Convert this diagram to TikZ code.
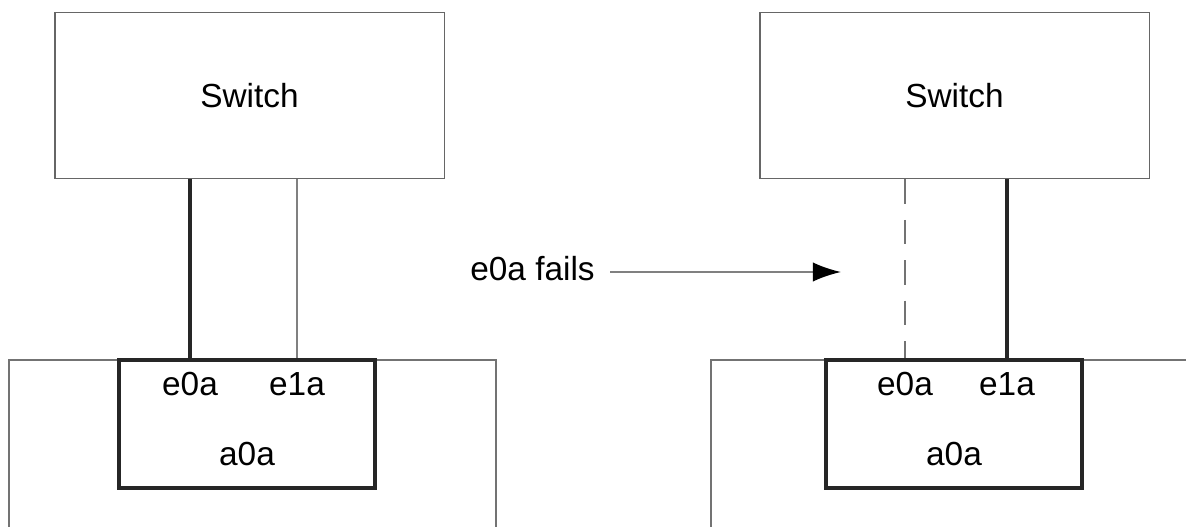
\documentclass[tikz,border=0pt]{standalone}
\usepackage{fontspec}
\setmainfont{Liberation Sans}
\usetikzlibrary{arrows.meta,positioning,calc}

\begin{document}
\begin{tikzpicture}[
    x=0.02cm, y=-0.02cm,
    font=\fontsize{19}{22}\selectfont,
    switchbox/.style={
        rectangle,
        draw=black!60,
        line width=1.1pt,
        minimum width=7.8cm,
        minimum height=3.32cm
    },
    hostbox/.style={
        rectangle,
        draw=black!55,
        line width=1.1pt,
        minimum height=4cm
    },
    ifbox/.style={
        rectangle,
        draw=black!85,
        line width=1.8pt,
        minimum width=5.12cm,
        minimum height=2.56cm
    },
    port/.style={
        inner sep=0pt
    },
    link/.style={
        draw=black!85,
        line width=1.8pt
    },
    spare/.style={
        draw=black!50,
        line width=1.1pt
    },
    down/.style={
        draw=black!55,
        line width=1.1pt,
        dash pattern=on 14pt off 9pt
    },
    line/.style={
        draw=black!50,
        line width=1.1pt,
        -{Latex[length=16pt,width=11pt,black]}
    }
]
    \clip (0,0) rectangle (1186,527);

    % Before: both ports up
    \node [hostbox, minimum width=9.74cm] (lhost) at (252.5,460) {};
    \node [switchbox] (lsw) at (249.5,95.5) {Switch};
    \node [ifbox] (lif) at (247,424) {};
    \node [port] (lp0) at (190,384) {e0a};
    \node [port] (lp1) at (297,384) {e1a};
    \node [port] (lvif) at (247,454) {a0a};

    % After: e0a down
    \node [hostbox, minimum width=11.78cm] (rhost) at (1005.5,460) {};
    \node [switchbox] (rsw) at (954.5,95.5) {Switch};
    \node [ifbox] (rif) at (954,424) {};
    \node [port] (rp0) at (905,384) {e0a};
    \node [port] (rp1) at (1007,384) {e1a};
    \node [port] (rvif) at (954,454) {a0a};

    % Event
    \node [port] (fail) at (532.5,269) {e0a fails};
    \coordinate (failend) at (841,272);

    % Edges
    \path [link] (lsw.south -| lp0) -- (lif.north -| lp0);
    \path [spare] (lsw.south -| lp1) -- (lif.north -| lp1);
    \path [down] (rsw.south -| rp0) -- (rif.north -| rp0);
    \path [link] (rsw.south -| rp1) -- (rif.north -| rp1);
    \path [line] (fail.east |- failend) ++(15,0) coordinate (failstart) -- (failend);

\end{tikzpicture}
\end{document}
